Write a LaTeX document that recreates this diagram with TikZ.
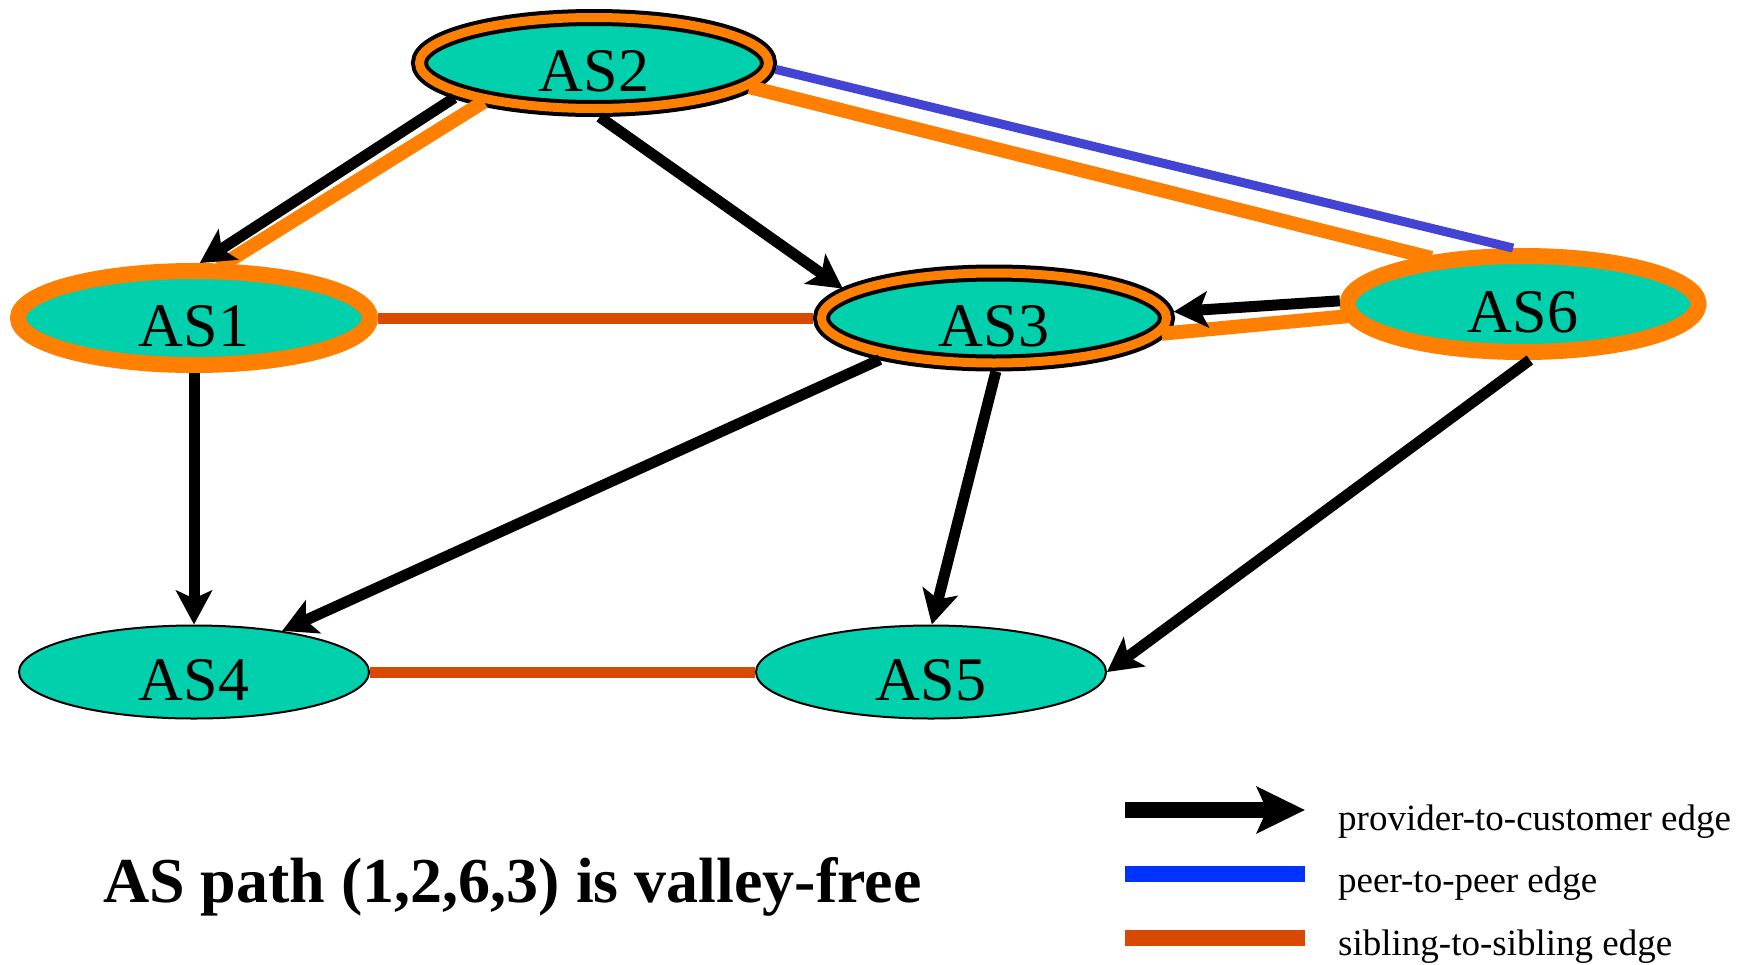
\documentclass[tikz,border=0pt]{standalone}
\usepackage{fontspec}
\setmainfont{Liberation Serif}
\usetikzlibrary{arrows.meta,shapes.geometric}

\definecolor{asfill}{RGB}{0,209,172}
\definecolor{pathorange}{RGB}{255,128,0}
\definecolor{siblingred}{RGB}{217,74,0}
\definecolor{peerblue}{RGB}{68,68,212}
\definecolor{legendblue}{RGB}{0,51,255}

\begin{document}
\begin{tikzpicture}[x=1pt, y=-1pt,
  asnode/.style={ellipse, fill=asfill, inner sep=0pt, text height=56pt, text depth=0pt,
                 font=\fontsize{62}{62}\selectfont},
  plainring/.style={asnode, draw=black, line width=2pt, outer sep=1pt,
                    minimum width=350pt, minimum height=93pt},
  orangering/.style={asnode, draw=pathorange, line width=16pt, outer sep=8pt},
  doublering/.style={asnode, draw=black, line width=4pt, double=pathorange,
                     double distance=9pt, outer sep=8.5pt},
  p2c/.style={draw=black, line width=11pt, -{Stealth[length=34pt, width=36pt, inset=8pt]}},
  peer/.style={draw=peerblue, line width=9pt},
  sibling/.style={draw=siblingred, line width=11pt},
  valley/.style={draw=pathorange, line width=14pt},
  legendbar/.style={line width=16pt},
  legendtext/.style={anchor=base west, inner sep=0pt, font=\fontsize{37}{37}\selectfont},
]
\useasboundingbox (0,0) rectangle (1742,964);

% autonomous systems
\node[orangering, minimum width=352pt, minimum height=94pt] (AS1) at (194,318) {AS1};
\node[doublering, minimum width=349pt, minimum height=91pt] (AS2) at (594,63) {AS2};
\node[doublering, minimum width=345pt, minimum height=90pt] (AS3) at (994,318) {AS3};
\node[plainring] (AS4) at (194,672) {AS4};
\node[plainring] (AS5) at (931,672) {AS5};
\node[orangering, minimum width=351pt, minimum height=96pt] (AS6) at (1523,304) {AS6};

% sibling and peer links
\draw[sibling] (AS1.east) -- (AS3.west);
\draw[sibling] (AS4.east) -- (AS5.west);
\draw[peer] (AS2.-2) -- (AS6.100);

% the valley-free path 1-2-6-3
\draw[valley, shorten <=-6pt, shorten >=-6pt] (AS2.200) -- (AS1.61);
\draw[valley, shorten <=-6pt, shorten >=-6pt] (AS2.-9) -- (AS6.154);
\draw[valley, shorten <=-6pt, shorten >=-6pt] (AS6.184) -- (AS3.-5);

% provider-to-customer links
\draw[p2c] (AS2.194) -- (AS1.84);
\draw[p2c] (AS2.-84) -- (AS3.169);
\draw[p2c] (AS6.179) -- (AS3.2.5);
\draw[p2c] (AS1.south) -- (AS4.north);
\draw[p2c] (AS3.200) -- (AS4.25);
\draw[p2c] (AS3.-88) -- (AS5.89);
\draw[p2c] (AS6.-83) -- (AS5.east);

% legend
\coordinate (legA1) at (1125,810);
\coordinate (legA2) at (1305,810);
\coordinate (legB1) at (1125,874);
\coordinate (legB2) at (1305,874);
\coordinate (legC1) at (1125,938);
\coordinate (legC2) at (1305,938);
\draw[legendbar, black, -{Stealth[length=48pt, width=46pt, inset=10pt]}] (legA1) -- (legA2);
\draw[legendbar, legendblue] (legB1) -- (legB2);
\draw[legendbar, siblingred] (legC1) -- (legC2);
\node[legendtext] (legP2C) at (1338,830) {provider-to-customer edge};
\node[legendtext] (legPeer) at (1338,892) {peer-to-peer edge};
\node[legendtext] (legSib) at (1338,955) {sibling-to-sibling edge};

% caption
\node[anchor=base west, inner sep=0pt, font=\bfseries\fontsize{64}{64}\selectfont]
  (caption) at (103,902) {AS path (1,2,6,3) is valley-free};
\end{tikzpicture}
\end{document}
